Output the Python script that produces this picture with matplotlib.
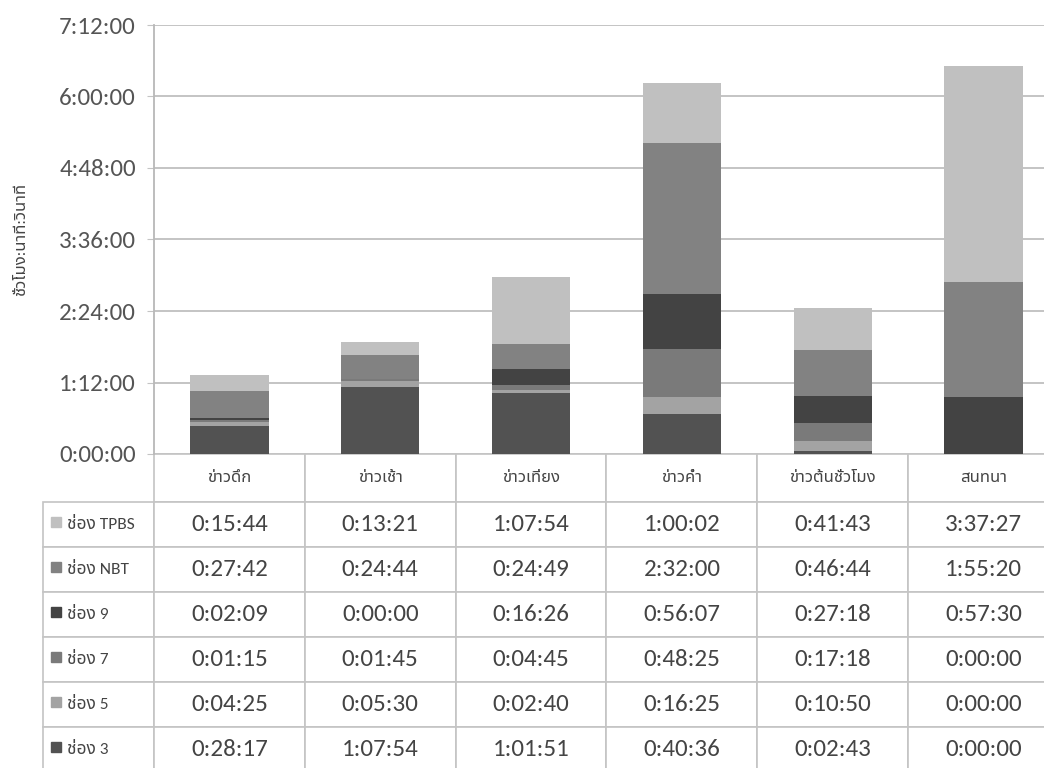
import matplotlib
matplotlib.use("Agg")
import matplotlib.pyplot as plt
from matplotlib.patches import Rectangle
from matplotlib.ticker import MultipleLocator, FuncFormatter
import numpy as np

plt.rcParams["font.family"] = ["Carlito", "Lato", "Noto Sans Thai", "Sarabun", "DejaVu Sans"]

categories = ["ข่าวดึก", "ข่าวเช้า", "ข่าวเที่ยง", "ข่าวค่ำ", "ข่าวต้นชั่วโมง", "สนทนา"]
ch3 = ["0:28:17", "1:07:54", "1:01:51", "0:40:36", "0:02:43", "0:00:00"]
ch5 = ["0:04:25", "0:05:30", "0:02:40", "0:16:25", "0:10:50", "0:00:00"]
ch7 = ["0:01:15", "0:01:45", "0:04:45", "0:48:25", "0:17:18", "0:00:00"]
ch9 = ["0:02:09", "0:00:00", "0:16:26", "0:56:07", "0:27:18", "0:57:30"]
nbt = ["0:27:42", "0:24:44", "0:24:49", "2:32:00", "0:46:44", "1:55:20"]
tpbs = ["0:15:44", "0:13:21", "1:07:54", "1:00:02", "0:41:43", "3:37:27"]

# bottom to top of the stack
series = [ch3, ch5, ch7, ch9, nbt, tpbs]
names = ["ช่อง 3", "ช่อง 5", "ช่อง 7", "ช่อง 9", "ช่อง NBT", "ช่อง TPBS"]
colors = ["#525252", "#a3a3a3", "#7a7a7a", "#434343", "#828282", "#c0c0c0"]

ylabel = "ชั่วโมง:นาที:วินาที"


def to_sec(s):
    h, m, sec = s.split(":")
    return int(h) * 3600 + int(m) * 60 + int(sec)


def fmt_hms(v, pos=None):
    v = int(round(v))
    return "%d:%02d:%02d" % (v // 3600, (v % 3600) // 60, v % 60)


fig = plt.figure(figsize=(10.44, 7.68), dpi=100)
W, H = 1044.0, 768.0
# the plot area runs a bit past the right edge of the picture, as in the original
ax_l, ax_r, ax_t, ax_b = 154, 1059, 25, 454
ax = fig.add_axes([ax_l / W, 1 - ax_b / H, (ax_r - ax_l) / W, (ax_b - ax_t) / H])

x = np.arange(len(categories))
bottom = np.zeros(len(categories))
for vals, c in zip(series, colors):
    v = np.array([to_sec(s) for s in vals], dtype=float)
    ax.bar(x, v, 0.52, bottom=bottom, color=c, edgecolor="none", zorder=3)
    bottom += v

ax.set_xlim(-0.5, len(categories) - 0.5)
ax.set_ylim(0, 7 * 3600 + 12 * 60)
ax.yaxis.set_major_locator(MultipleLocator(4320))
ax.yaxis.set_major_formatter(FuncFormatter(fmt_hms))
ax.grid(axis="y", color="#c4c4c4", lw=1.4, zorder=0)
ax.tick_params(axis="y", length=5, color="#c4c4c4", labelsize=18, labelcolor="#555555", pad=8)
ax.tick_params(axis="x", length=0, labelbottom=False)
for s in ["top", "right", "bottom"]:
    ax.spines[s].set_visible(False)
ax.spines["left"].set_color("#b8b8b8")
ax.spines["left"].set_linewidth(1.3)
ax.set_ylabel(ylabel, fontsize=12, color="#444444", labelpad=22)

# data table under the bars, first column holds the series names
ax_w = ax_r - ax_l
ax_h = ax_b - ax_t
lab_w, col_w = 111.0, ax_w / len(categories)
head_h, row_h = 48.0, 45.0
tab_h = head_h + row_h * len(series)
tab_colors = colors[::-1]
cell_text = [[n] + vals for n, vals in zip(names[::-1], series[::-1])]

table = ax.table(cellText=[[""] + categories] + cell_text, cellLoc="center",
                 bbox=[-lab_w / ax_w, -tab_h / ax_h, (ax_w + lab_w) / ax_w, tab_h / ax_h])
table.auto_set_font_size(False)
for (r, c), cell in table.get_celld().items():
    cell.set_edgecolor("#c4c4c4")
    cell.set_linewidth(1.2)
    cell.set_width(lab_w if c == 0 else col_w)
    cell.set_height(head_h if r == 0 else row_h)
    txt = cell.get_text()
    txt.set_color("#444444")
    if r == 0:
        txt.set_fontsize(12)
        if c == 0:
            cell.visible_edges = ""
    elif c == 0:
        txt.set_fontsize(12.5)
        txt.set_horizontalalignment("left")
        cell.PAD = 0.22
    else:
        txt.set_fontsize(18)

# legend keys in the name cells
y_top = -head_h / ax_h
for i, c in enumerate(tab_colors):
    yc = y_top - (i + 0.45) * row_h / ax_h
    ax.add_patch(Rectangle(((51 - ax_l) / ax_w, yc - 5 / ax_h), 10 / ax_w, 10 / ax_h,
                           transform=ax.transAxes, color=c, clip_on=False, zorder=5))

fig.savefig("out.png", dpi=100)
